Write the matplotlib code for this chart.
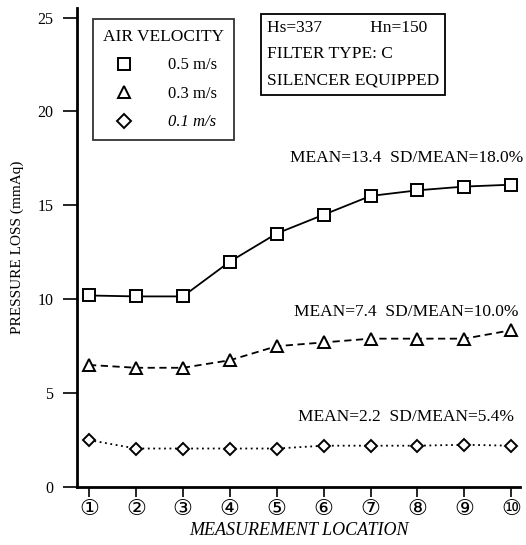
import matplotlib
matplotlib.use("Agg")
import matplotlib.pyplot as plt
from matplotlib.lines import Line2D

plt.rcParams['font.family'] = ['Liberation Serif', 'DejaVu Sans']

locations = [1, 2, 3, 4, 5, 6, 7, 8, 9, 10]
loc_labels = ['①', '②', '③', '④', '⑤', '⑥', '⑦', '⑧', '⑨', '⑩']
v05 = [10.2, 10.15, 10.15, 12.0, 13.5, 14.5, 15.5, 15.8, 16.0, 16.1]
v03 = [6.5, 6.35, 6.35, 6.75, 7.5, 7.7, 7.9, 7.9, 7.9, 8.35]
v01 = [2.5, 2.05, 2.05, 2.05, 2.05, 2.2, 2.2, 2.2, 2.25, 2.2]
series_labels = ['0.5 m/s', '0.3 m/s', '0.1 m/s']
stats = ['MEAN=13.4  SD/MEAN=18.0%', 'MEAN=7.4  SD/MEAN=10.0%', 'MEAN=2.2  SD/MEAN=5.4%']
yticks = [0, 5, 10, 15, 20, 25]

fig = plt.figure(figsize=(5.26, 5.45), dpi=100)
ax = fig.add_axes([0.1464, 0.1064, 0.8426, 0.8786])

mk = dict(markerfacecolor='white', markeredgecolor='black', markeredgewidth=1.4, color='black', lw=1.3)
ax.plot(locations, v05, '-', marker='s', markersize=9, **mk)
ax.plot(locations, v03, linestyle=(0, (4, 2.5)), marker='^', markersize=8.5, **mk)
ax.plot(locations, v01, linestyle=(0, (1, 2)), marker='D', markersize=6.5, **mk)

ax.set_xlim(0.744, 10.19)
ax.set_ylim(0, 25.5)
ax.set_xticks(locations)
ax.set_xticklabels(loc_labels, fontsize=16, family=['DejaVu Sans'])
ax.set_yticks(yticks)
ax.set_yticklabels([str(t) for t in yticks], fontsize=11.5)
ax.tick_params(axis='y', direction='out', length=10, width=1.2, pad=7)
ax.tick_params(axis='x', direction='out', length=7, width=1.2, pad=1.5)
for s in ['top', 'right']:
    ax.spines[s].set_visible(False)
ax.spines['left'].set_linewidth(2)
ax.spines['bottom'].set_linewidth(2)

ax.set_ylabel('PRESSURE LOSS (mmAq)', fontsize=11)
ax.yaxis.set_label_coords(-0.12, 0.5)
ax.set_xlabel('MEASUREMENT LOCATION', fontsize=13, style='italic', labelpad=2)

handles = [Line2D([], [], linestyle='none', marker=m, markersize=ms, markerfacecolor='white',
                  markeredgecolor='black', markeredgewidth=1.4)
           for m, ms in zip(['s', '^', 'D'], [9, 8.5, 7.5])]
leg = ax.legend(handles, series_labels, title='AIR VELOCITY', loc='upper left',
                bbox_to_anchor=(0.018, 0.995), fontsize=12, title_fontsize=12.5,
                frameon=True, fancybox=False, edgecolor='black', handletextpad=1.8,
                labelspacing=0.75, borderpad=0.6, handlelength=1.6)
leg.get_frame().set_linewidth(1.3)
for t in leg.get_texts()[2:]:
    t.set_style('italic')

ax.text(0.428, 0.975, 'Hs=337           Hn=150\nFILTER TYPE: C\nSILENCER EQUIPPED',
        transform=ax.transAxes, ha='left', va='top', fontsize=12.5, linespacing=1.85,
        bbox=dict(boxstyle='square,pad=0.35', facecolor='white', edgecolor='black', lw=1.3))

ax.text(10.25, 17.1, stats[0], ha='right', va='bottom', fontsize=12.5)
ax.text(10.15, 8.9, stats[1], ha='right', va='bottom', fontsize=12.5)
ax.text(10.05, 3.3, stats[2], ha='right', va='bottom', fontsize=12.5)

fig.savefig('out.png', dpi=100)
